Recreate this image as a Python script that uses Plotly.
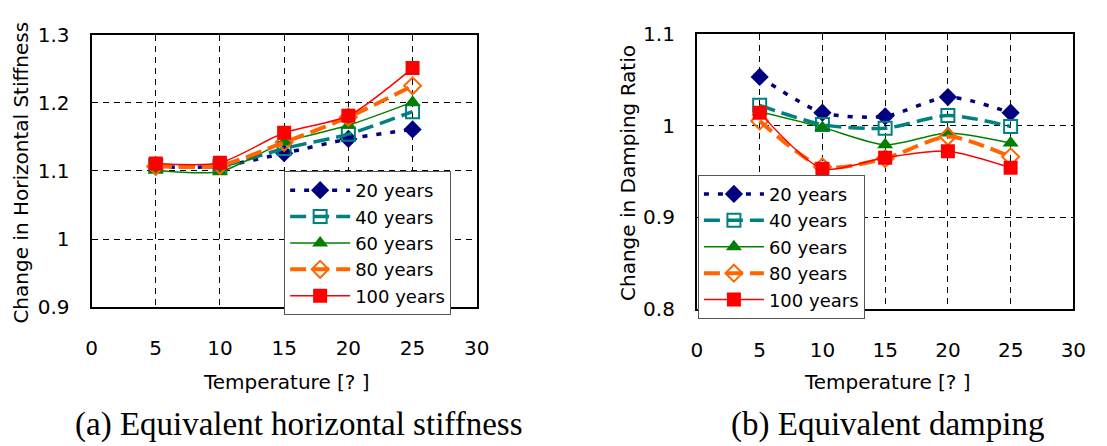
import plotly.graph_objects as go

# Temperature points (deg C)
temps = [5, 10, 15, 20, 25]
series_names = ["20 years", "40 years", "60 years", "80 years", "100 years"]

# (a) Change in equivalent horizontal stiffness
stiff_20 = [1.106, 1.107, 1.126, 1.147, 1.161]
stiff_40 = [1.108, 1.107, 1.133, 1.154, 1.187]
stiff_60 = [1.101, 1.099, 1.142, 1.167, 1.201]
stiff_80 = [1.107, 1.108, 1.142, 1.179, 1.225]
stiff_100 = [1.111, 1.112, 1.156, 1.181, 1.251]

# (b) Change in equivalent damping ratio
damp_20 = [1.053, 1.014, 1.010, 1.031, 1.014]
damp_40 = [1.022, 1.001, 0.997, 1.011, 0.999]
damp_60 = [1.015, 0.998, 0.979, 0.992, 0.981]
damp_80 = [1.005, 0.955, 0.964, 0.988, 0.966]
damp_100 = [1.014, 0.953, 0.965, 0.972, 0.954]

x_ticks = [0, 5, 10, 15, 20, 25, 30]

styles = [
    dict(color="#000080", width=3.5, dash="5px,9px", symbol="diamond", open=False),
    dict(color="#008080", width=3.5, dash="16px,7px", symbol="square-open", open=True),
    dict(color="#008000", width=1.5, dash="solid", symbol="triangle-up", open=False),
    dict(color="#FF6600", width=4, dash="16px,7px", symbol="diamond-open", open=True),
    dict(color="#FF0000", width=1.5, dash="solid", symbol="square", open=False),
]

LABEL_FONT = dict(family="DejaVu Sans", size=20, color="#000000")
LEGEND_FONT = dict(family="DejaVu Sans", size=18, color="#000000")
TICK_FONT = dict(family="DejaVu Sans", size=20, color="#000000")
CAPTION_FONT = dict(family="Liberation Serif", size=33, color="#000000")

fig = go.Figure()


def add_panel(data, xa, ya, legend_name):
    for name, ys, st in zip(series_names, data, styles):
        fig.add_trace(go.Scatter(
            x=temps, y=ys, name=name, mode="lines+markers",
            xaxis=xa, yaxis=ya, legend=legend_name,
            line=dict(color=st["color"], width=st["width"], dash=st["dash"],
                      shape="spline", smoothing=0.7),
            marker=dict(symbol=st["symbol"], size=14 if not st["open"] else 13,
                        color=st["color"],
                        line=dict(color=st["color"], width=2 if st["open"] else 0)),
        ))


add_panel([stiff_20, stiff_40, stiff_60, stiff_80, stiff_100], "x", "y", "legend")
add_panel([damp_20, damp_40, damp_60, damp_80, damp_100], "x2", "y2", "legend2")

W, H = 1107, 446

axis_common = dict(
    showline=True, linecolor="#000000", linewidth=2, mirror=True,
    showgrid=True, gridcolor="#000000", gridwidth=1, griddash="6px,5px",
    zeroline=False, ticks="", tickfont=TICK_FONT,
)

legend_common = dict(
    xanchor="left", yanchor="top", bgcolor="#FFFFFF",
    bordercolor="#555555", borderwidth=1, font=LEGEND_FONT,
    tracegroupgap=0, itemwidth=60,
)

fig.update_layout(
    width=W, height=H,
    margin=dict(l=0, r=0, t=0, b=0),
    paper_bgcolor="#FFFFFF", plot_bgcolor="#FFFFFF",
    showlegend=True,
    xaxis=dict(domain=[87 / W, 479 / W], range=[0, 30], tickvals=x_ticks,
               anchor="y", ticklabelstandoff=22, **axis_common),
    yaxis=dict(domain=[1 - 312 / H, 1 - 24 / H], range=[0.9, 1.3], dtick=0.1,
               anchor="x", ticklabelstandoff=16, **axis_common),
    xaxis2=dict(domain=[703 / W, 1086 / W], range=[0, 30], tickvals=x_ticks,
                anchor="y2", ticklabelstandoff=22, **axis_common),
    yaxis2=dict(domain=[1 - 314 / H, 1 - 23 / H], range=[0.8, 1.1], dtick=0.1,
                anchor="x2", ticklabelstandoff=16, **axis_common),
    legend=dict(x=283 / W, y=1 - 168 / H, **legend_common),
    legend2=dict(x=704 / W, y=1 - 172 / H, **legend_common),
)

annotations = [
    dict(text="Change in Horizontal Stiffness", x=15 / W, y=1 - 170 / H,
         textangle=-90, font=LABEL_FONT),
    dict(text="Change in Damping Ratio", x=633 / W, y=1 - 170 / H,
         textangle=-90, font=LABEL_FONT),
    dict(text="Temperature [? ]", x=285 / W, y=1 - 391 / H, font=LABEL_FONT),
    dict(text="Temperature [? ]", x=897 / W, y=1 - 391 / H, font=LABEL_FONT),
    dict(text="(a) Equivalent horizontal stiffness", x=298 / W, y=1 - 436 / H,
         font=CAPTION_FONT),
    dict(text="(b) Equivalent damping", x=897 / W, y=1 - 436 / H,
         font=CAPTION_FONT),
]
for a in annotations:
    fig.add_annotation(xref="paper", yref="paper", showarrow=False,
                       xanchor="center", yanchor="middle", **a)

fig.write_html("out.html")
